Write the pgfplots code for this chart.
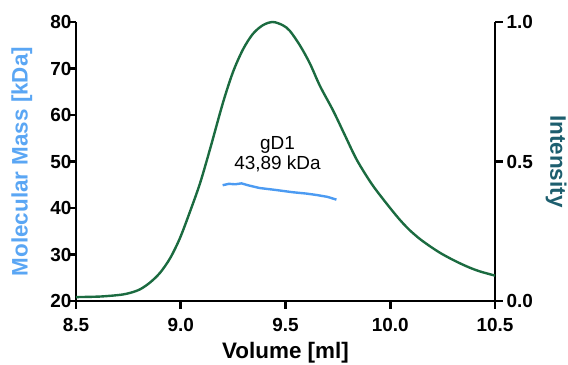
\documentclass[border=0pt]{standalone}
\usepackage{pgfplots}
\pgfplotsset{compat=1.18}
\usetikzlibrary{calc}
\usepackage{fontspec}
\setmainfont{Liberation Sans}
\definecolor{curvegreen}{HTML}{1B6B40}
\definecolor{massblue}{HTML}{4C9BF2}
\definecolor{lblblue}{HTML}{5AA6F4}
\definecolor{intteal}{HTML}{1D5E6E}
\pgfplotsset{
  mystyle/.style={
    scale only axis, width=419bp, height=279bp,
    xmin=8.5, xmax=10.5, clip=false,
    major tick length=0pt,
    tick style={draw=none},
    ticklabel style={font=\fontsize{19}{22}\selectfont\bfseries},
    /pgf/number format/assume math mode=true,
  }
}
\tikzset{tk/.style={line width=2.6bp, black}}
\begin{document}
\begin{tikzpicture}
\begin{axis}[mystyle,
  axis lines=left,
  axis line style={line width=2.6bp, -},
  ymin=20, ymax=80,
  xtick={8.5,9,9.5,10,10.5},
  ytick={20,30,40,50,60,70,80},
  xticklabel style={/pgf/number format/.cd, fixed, fixed zerofill, precision=1, /tikz/yshift=-14bp},
  yticklabel style={xshift=-1bp},
  xlabel={Volume [ml]},
  xlabel style={font=\fontsize{22.5}{26}\selectfont\bfseries, at={(axis description cs:0.5,0)}, anchor=base, yshift=-57bp},
  ylabel={Molecular Mass [kDa]},
  ylabel style={font=\fontsize{22.5}{26}\selectfont\bfseries, at={(axis description cs:-0.129,0.5)}, anchor=center, text=lblblue},
]
\coordinate (O) at (rel axis cs:0,0);
\addplot[massblue, line width=2.4bp] coordinates {
(9.200,44.9) (9.230,45.2) (9.260,45.1) (9.290,45.3) (9.320,44.9)
(9.376,44.3) (9.450,43.9) (9.533,43.4) (9.600,43.1) (9.648,42.8)
(9.700,42.4) (9.743,41.8)
};
\node[font=\fontsize{19}{20}\selectfont, align=center] at (axis cs:9.462,51.5) {gD1\\43,89 kDa};
\end{axis}
\begin{axis}[mystyle,
  axis x line=none, axis y line=right,
  axis line style={line width=2.6bp, -},
  ymin=0, ymax=1,
  ytick={0,0.5,1},
  yticklabel style={/pgf/number format/.cd, fixed, fixed zerofill, precision=1, /tikz/xshift=8bp},
  ylabel={Intensity},
  ylabel style={font=\fontsize{22.5}{26}\selectfont\bfseries, at={(axis description cs:1.146,0.5)}, anchor=center, rotate=180, text=intteal},
]
\addplot[curvegreen, line width=2.4bp, smooth, tension=0.5] coordinates {
(8.500,0.014) (8.615,0.016) (8.710,0.022) (8.758,0.029) (8.806,0.042)
(8.853,0.066) (8.901,0.101) (8.949,0.153) (8.996,0.225) (9.044,0.320)
(9.092,0.422) (9.140,0.545) (9.202,0.712) (9.250,0.822) (9.298,0.903)
(9.345,0.958) (9.393,0.989) (9.440,1.000) (9.488,0.988) (9.521,0.968)
(9.569,0.916) (9.616,0.852) (9.665,0.770) (9.727,0.683) (9.783,0.595)
(9.841,0.505) (9.913,0.418) (9.989,0.343) (10.047,0.290) (10.094,0.253)
(10.142,0.222) (10.190,0.196) (10.237,0.173) (10.285,0.153) (10.333,0.135)
(10.381,0.119) (10.428,0.106) (10.500,0.091)
};
\end{axis}
% axis tick marks (outward)
\foreach \k in {0,...,6} \draw[tk] ($(O)+(0,\k*46.5bp)$) -- +(-8bp,0);
\foreach \k in {0,...,4} \draw[tk] ($(O)+(\k*104.75bp,0)$) -- +(0,-8bp);
\foreach \k in {0,...,2} \draw[tk] ($(O)+(419bp,\k*139.5bp)$) -- +(8bp,0);
\pgfresetboundingbox
\path ($(O)+(-76bp,-64bp)$) rectangle ($(O)+(492bp,301bp)$);
\end{tikzpicture}
\end{document}
